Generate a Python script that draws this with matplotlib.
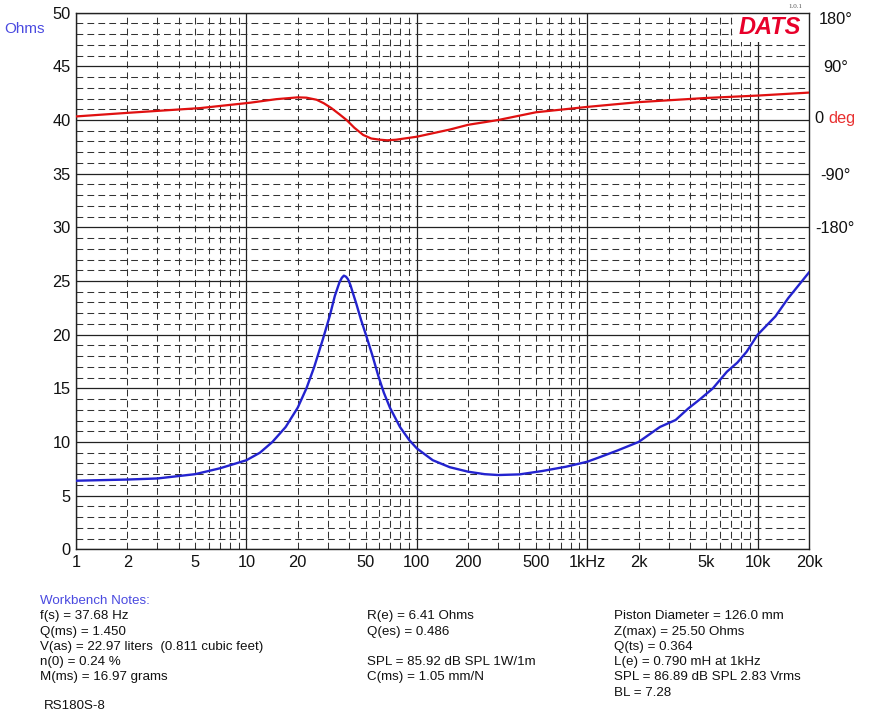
import numpy as np
import matplotlib
matplotlib.use("Agg")
import matplotlib.pyplot as plt
import matplotlib.transforms as mtrans
from matplotlib.patches import Rectangle

plt.rcParams['font.family'] = ['Liberation Sans', 'DejaVu Sans']

# ---- data ----
freq_z = [1, 2, 3, 5, 7, 10, 12, 14.2, 17, 20, 22.5, 25, 28, 30.9, 33, 35.1, 36.3, 37.3,
          38.4, 39.5, 40.8, 42.3, 44.1, 47, 50.7, 55, 59.3, 64, 69.5, 79.6, 90, 100, 124,
          156, 200, 250, 300, 400, 547, 753, 1000, 1190, 1500, 2000, 2670, 3300, 3900,
          4600, 5460, 6600, 7600, 8600, 10000, 12700, 15100, 20000]
impedance = [6.39, 6.5, 6.6, 7.0, 7.55, 8.3, 9.0, 10.0, 11.4, 13.2, 15.0, 17.0, 19.5,
             21.8, 23.6, 24.85, 25.3, 25.5, 25.4, 25.15, 24.6, 23.8, 22.9, 21.4, 19.8,
             18.0, 16.2, 14.6, 13.2, 11.4, 10.2, 9.4, 8.3, 7.65, 7.23, 7.0, 6.92, 6.98,
             7.3, 7.7, 8.16, 8.6, 9.2, 10.0, 11.4, 12.05, 13.1, 14.0, 15.0, 16.55, 17.4,
             18.4, 20.0, 21.7, 23.4, 25.8]

freq_p = [1, 2, 5.35, 10.5, 15, 20, 22.5, 25.8, 28.5, 31.5, 35, 38.7, 43, 48.4, 54, 60.6,
          67, 75.6, 100, 156, 200, 300, 500, 1000, 2000, 5000, 10000, 20000]
phase = [6, 12, 20, 29, 35, 38, 37.5, 34, 28, 20, 10, 0, -13, -25, -31, -33,
         -34, -33, -28, -16, -8, 0, 13, 22, 30, 37, 41, 46]

x_ticks = [1, 2, 5, 10, 20, 50, 100, 200, 500, 1000, 2000, 5000, 10000, 20000]
x_labels = ['1', '2', '5', '10', '20', '50', '100', '200', '500', '1kHz', '2k', '5k', '10k', '20k']
y_ticks = [0, 5, 10, 15, 20, 25, 30, 35, 40, 45, 50]
phase_ticks = [-180, -90, 0, 90, 180]
phase_labels = ['-180°', '-90°', '', '90°', '180°']

notes_col1 = ['f(s) = 37.68 Hz', 'Q(ms) = 1.450', 'V(as) = 22.97 liters  (0.811 cubic feet)',
              'n(0) = 0.24 %', 'M(ms) = 16.97 grams']
notes_col2 = ['R(e) = 6.41 Ohms', 'Q(es) = 0.486', '', 'SPL = 85.92 dB SPL 1W/1m',
              'C(ms) = 1.05 mm/N']
notes_col3 = ['Piston Diameter = 126.0 mm', 'Z(max) = 25.50 Ohms', 'Q(ts) = 0.364',
              'L(e) = 0.790 mH at 1kHz', 'SPL = 86.89 dB SPL 2.83 Vrms', 'BL = 7.28']

W, H = 869, 721
fig = plt.figure(figsize=(W / 100, H / 100), dpi=100)
L, R, T, B = 76, 809, 12.7, 549.3
ax = fig.add_axes([L / W, 1 - B / H, (R - L) / W, (B - T) / H])
ax.set_xscale('log')
ax.set_xlim(1, 20000)
ax.set_ylim(0, 50)
ax.set_axisbelow(True)

TFS = 11.8
ax.set_xticks(x_ticks)
ax.set_xticklabels(x_labels)
minor_x = [m * 10 ** k for k in range(4) for m in range(2, 10)]
ax.set_xticks(minor_x, minor=True)
ax.set_yticks(y_ticks)
ax.set_yticks([v for v in range(51) if v % 5 != 0], minor=True)
ax.tick_params(which='both', length=0, labelsize=TFS, colors='#111111')
ax.tick_params(axis='x', pad=4)
ax.tick_params(axis='y', pad=4)
ax.xaxis.set_minor_formatter(matplotlib.ticker.NullFormatter())
ax.grid(which='major', color='#222222', lw=0.9, ls='-')
ax.grid(which='minor', color='#333333', lw=0.75, ls=(0, (6.5, 4)))
for gl, t in zip(ax.xaxis.get_gridlines(), ax.get_xticks()):
    if not np.isclose(np.log10(t), round(np.log10(t))):
        gl.set_linestyle((0, (6.5, 4)))
        gl.set_linewidth(0.75)
        gl.set_color('#333333')
for sp in ax.spines.values():
    sp.set_color('#222222')
    sp.set_linewidth(1.0)

# DATS logo area
ax.add_patch(Rectangle((0.896, 0.945), 0.104, 0.055, transform=ax.transAxes,
                       facecolor='white', edgecolor='none', zorder=1))
ax.text(0.989, 0.973, 'DATS', transform=ax.transAxes, ha='right', va='center',
        fontsize=17, fontweight='bold', fontstyle='italic', color='#e8002a', zorder=3)
fig.text(795 / W, 1 - 7 / H, '1.0.1', ha='center', va='center', fontsize=5,
         color='#555555', family='Liberation Serif')

# impedance curve
ax.plot(freq_z, impedance, color='#2323cf', lw=1.7, zorder=4)

# phase curve on twin axis
ax2 = ax.twinx()
ax2.set_ylim(-720, 180)
ax2.plot(freq_p, phase, color='#e01010', lw=1.6, zorder=4)
ax2.set_yticks(phase_ticks)
ax2.set_yticklabels(phase_labels)
ax2.tick_params(length=0, labelsize=TFS, pad=19, colors='#111111')
for lab in ax2.get_yticklabels():
    lab.set_horizontalalignment('center')
lab180 = ax2.get_yticklabels()[-1]
lab180.set_transform(lab180.get_transform() + mtrans.ScaledTranslation(0, -5 / 100, fig.dpi_scale_trans))
for sp in ax2.spines.values():
    sp.set_visible(False)

blend = mtrans.blended_transform_factory(ax2.transAxes, ax2.transData)
ax2.text(1.0, 0, '0', transform=mtrans.offset_copy(blend, fig=fig, x=5, y=2, units='dots'),
         ha='left', va='center', fontsize=TFS, color='#111111')
ax2.text(1.0, 0, 'deg', transform=mtrans.offset_copy(blend, fig=fig, x=19, y=2, units='dots'),
         ha='left', va='center', fontsize=TFS, color='#e83030')

fig.text(4 / W, 1 - 29 / H, 'Ohms', ha='left', va='center', fontsize=11, color='#4a4ae0')

# notes
fs = 9.6
fig.text(40 / W, 1 - 601 / H, 'Workbench Notes:', ha='left', va='center', fontsize=fs,
         color='#4a4ae0')
line_y = [616, 632, 647, 662, 677, 693]
for i, t in enumerate(notes_col1):
    fig.text(40 / W, 1 - line_y[i] / H, t, ha='left', va='center', fontsize=fs, color='#111111')
for i, t in enumerate(notes_col2):
    if t:
        fig.text(367 / W, 1 - line_y[i] / H, t, ha='left', va='center', fontsize=fs, color='#111111')
for i, t in enumerate(notes_col3):
    fig.text(614 / W, 1 - line_y[i] / H, t, ha='left', va='center', fontsize=fs, color='#111111')
fig.text(44 / W, 1 - 706 / H, 'RS180S-8', ha='left', va='center', fontsize=fs, color='#111111')

fig.savefig('out.png', dpi=100)
